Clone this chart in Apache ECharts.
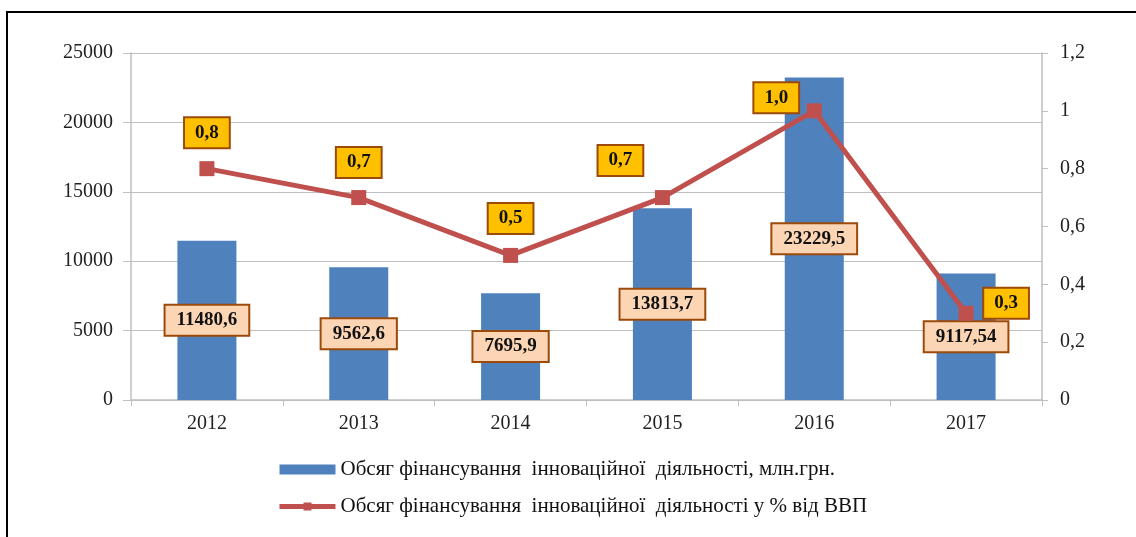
<!DOCTYPE html>
<html>
<head>
<meta charset="utf-8">
<script src="https://cdn.jsdelivr.net/npm/echarts@6/dist/echarts.min.js"></script>
<style>html,body{margin:0;padding:0;background:#fff;}#c{width:1136px;height:537px;}</style>
</head>
<body>
<div id="c"></div>
<script>
const categories = ['2012', '2013', '2014', '2015', '2016', '2017'];
const fundingValues = [11480.6, 9562.6, 7695.9, 13813.7, 23229.5, 9117.54];
const gdpShareValues = [0.8, 0.7, 0.5, 0.7, 1.0, 0.3];
const leftTicks = [0, 5000, 10000, 15000, 20000, 25000];
const rightTicks = [0, 0.2, 0.4, 0.6, 0.8, 1.0, 1.2];
const seriesNames = ['Обсяг фінансування  інноваційної  діяльності, млн.грн.',
                     'Обсяг фінансування  інноваційної  діяльності у % від ВВП'];

const lineLabelOffsets = [[0, -36], [0, -35], [0, -37], [-42, -37], [-38, -13], [40, -10]];
const FONT = "'Liberation Serif', 'Times New Roman', serif";
const comma = v => String(v).replace('.', ',');

const chart = echarts.init(document.getElementById('c'));
chart.setOption({
  animation: false,
  backgroundColor: '#fff',
  textStyle: { fontFamily: FONT },
  graphic: [
    { type: 'polyline', shape: { points: [[7, 540], [7, 12], [1140, 12]] },
      style: { stroke: '#000', lineWidth: 2, fill: null } }
  ],
  grid: { left: 131, right: 94, top: 53, bottom: 137 },
  legend: {
    orient: 'vertical', left: 272, top: 454, itemGap: 16,
    itemWidth: 56, itemHeight: 10,
    textStyle: { fontFamily: FONT, fontSize: 21, color: '#111' },
    data: [
      { name: seriesNames[0], icon: 'rect' },
      { name: seriesNames[1], lineStyle: { width: 5 } }
    ]
  },
  xAxis: {
    type: 'category', data: categories,
    axisLine: { lineStyle: { color: '#BFBFBF', width: 1.5 } },
    axisTick: { show: true, alignWithLabel: false, length: 6, lineStyle: { color: '#BFBFBF' } },
    axisLabel: { fontFamily: FONT, fontSize: 20, color: '#222', margin: 14 }
  },
  yAxis: [
    { type: 'value', min: leftTicks[0], max: leftTicks[leftTicks.length - 1], interval: leftTicks[1] - leftTicks[0],
      axisLine: { show: true, lineStyle: { color: '#BFBFBF', width: 1.5 } },
      axisTick: { show: true, length: 8, lineStyle: { color: '#BFBFBF' } },
      splitLine: { lineStyle: { color: '#BFBFBF', width: 1.2 } },
      axisLabel: { fontFamily: FONT, fontSize: 20, color: '#222', margin: 18, formatter: v => String(v) } },
    { type: 'value', min: rightTicks[0], max: rightTicks[rightTicks.length - 1], interval: 0.2,
      axisLine: { show: true, lineStyle: { color: '#BFBFBF', width: 1.5 } },
      axisTick: { show: true, length: 6, lineStyle: { color: '#BFBFBF' } },
      splitLine: { show: false },
      axisLabel: { fontFamily: FONT, fontSize: 20, color: '#222', margin: 18,
        formatter: v => comma(Math.round(v * 10) / 10) } }
  ],
  series: [
    { name: seriesNames[0], type: 'bar', yAxisIndex: 0, barWidth: 59,
      itemStyle: { color: '#4F81BD' },
      data: fundingValues,
      label: { show: true, position: 'inside', formatter: p => comma(p.value),
        fontFamily: FONT, fontSize: 19, fontWeight: 'bold', color: '#111',
        backgroundColor: '#FCD5B5', borderColor: '#9C4A0A', borderWidth: 2, padding: [6, 11, 4, 11] } },
    { name: seriesNames[1], type: 'line', yAxisIndex: 1,
      symbol: 'rect', symbolSize: 15,
      lineStyle: { color: '#C0504D', width: 5 },
      itemStyle: { color: '#C0504D' },
      data: gdpShareValues.map((v, i) => ({ value: v, label: { offset: lineLabelOffsets[i] } })),
      label: { show: true, position: 'inside', formatter: p => comma(p.value.toFixed(1)),
        fontFamily: FONT, fontSize: 19, fontWeight: 'bold', color: '#111',
        backgroundColor: '#FFC000', borderColor: '#9C4A0A', borderWidth: 2, padding: [6, 10, 4, 10] } }
  ]
});
</script>
</body>
</html>
